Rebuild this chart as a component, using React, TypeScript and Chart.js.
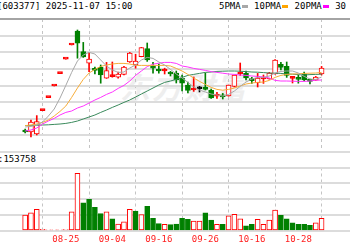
import React, { useEffect, useRef } from "react";
import { Chart, registerables } from "chart.js";

Chart.register(...registerables);

// ---------- data ----------
const dates = [
  "08-14", "08-15", "08-18", "08-19", "08-20", "08-21", "08-22", "08-25", "08-26", "08-27",
  "08-28", "08-29", "09-01", "09-02", "09-03", "09-04", "09-05", "09-08", "09-09", "09-10",
  "09-11", "09-12", "09-15", "09-16", "09-17", "09-18", "09-19", "09-22", "09-23", "09-24",
  "09-25", "09-26", "09-29", "09-30", "10-09", "10-10", "10-13", "10-14", "10-15", "10-16",
  "10-17", "10-20", "10-21", "10-22", "10-23", "10-24", "10-27", "10-28", "10-29", "10-30",
  "10-31", "11-03",
];
const tickLabels = ["08-25", "09-04", "09-16", "09-26", "10-16", "10-28"];

const openP = [
  5.0, 4.9, 4.8, 5.97, 6.62, 7.2, 7.82, 8.54, 9.25, 9.95,
  8.92, 8.34, 8.03, 8.13, 7.59, 7.67, 7.64, 7.78, 8.4, 8.25,
  8.67, 9.07, 8.16, 7.99, 7.95, 7.88, 7.85, 7.6, 7.25, 7.0,
  7.06, 7.15, 6.98, 6.69, 6.7, 6.7, 7.18, 7.8, 7.83, 7.52,
  7.37, 7.55, 7.55, 7.8, 8.28, 8.18, 7.58, 7.57, 7.8, 7.47,
  7.49, 7.8,
];
const highP = [
  5.05, 5.5, 5.72, 5.97, 6.62, 7.2, 7.82, 8.54, 9.25, 10.0,
  9.38, 8.88, 8.15, 8.25, 8.38, 8.4, 7.89, 8.18, 8.88, 8.79,
  9.13, 9.35, 8.38, 8.3, 8.09, 7.93, 7.95, 7.75, 7.4, 7.65,
  7.18, 7.85, 7.05, 6.88, 6.83, 7.25, 7.75, 8.35, 7.95, 7.63,
  7.83, 7.75, 7.88, 8.52, 8.38, 8.4, 7.63, 7.75, 7.9, 7.55,
  7.68, 8.18,
];
const lowP = [
  4.85, 4.65, 4.75, 5.97, 6.62, 7.2, 7.82, 8.54, 9.25, 8.59,
  8.63, 7.92, 7.8, 7.34, 7.58, 7.64, 7.59, 7.75, 8.38, 8.09,
  8.66, 8.43, 7.84, 7.84, 7.8, 7.7, 7.35, 6.95, 6.85, 6.93,
  6.9, 7.0, 6.58, 6.58, 6.55, 6.69, 7.15, 7.73, 7.5, 7.33,
  7.15, 7.33, 7.54, 7.79, 8.0, 7.63, 7.35, 7.34, 7.45, 7.3,
  7.48, 7.75,
];
const closeP = [
  4.9, 5.4, 5.42, 5.97, 6.62, 7.2, 7.82, 8.54, 9.25, 9.34,
  8.65, 8.54, 7.98, 7.75, 7.97, 7.7, 7.79, 8.15, 8.85, 8.45,
  9.12, 8.5, 8.09, 7.95, 7.98, 7.8, 7.5, 7.34, 6.98, 7.03,
  7.06, 7.03, 6.6, 6.72, 6.66, 7.25, 7.75, 7.85, 7.6, 7.47,
  7.59, 7.6, 7.85, 8.5, 8.13, 7.73, 7.61, 7.53, 7.5, 7.43,
  7.65, 8.1,
];
const volume = [
  100000, 115000, 137000, 10000, 8000, 7000, 8000, 9000, 121000, 363000,
  178000, 200000, 149000, 109000, 120000, 76000, 44000, 57000, 137000, 126000,
  103000, 156000, 80000, 46000, 42000, 40000, 44000, 80000, 74000, 63000,
  63000, 115000, 69000, 42000, 42000, 96000, 105000, 76000, 33000, 42000,
  74000, 42000, 69000, 132000, 99000, 76000, 52000, 42000, 42000, 36000,
  52000, 80000,
];
const ma5 = [
  5.15, 5.18, 5.25, 5.4, 5.7, 6.05, 6.6, 7.23, 7.88, 8.45,
  8.75, 8.88, 8.8, 8.5, 8.2, 8.0, 7.88, 7.9, 8.1, 8.25,
  8.5, 8.63, 8.58, 8.4, 8.25, 8.03, 7.8, 7.6, 7.38, 7.15,
  7.0, 6.9, 6.8, 6.75, 6.7, 6.78, 6.95, 7.18, 7.4, 7.55,
  7.63, 7.63, 7.7, 7.85, 7.93, 7.95, 7.95, 7.85, 7.68, 7.55,
  7.53, 7.65,
];
const ma10 = [
  5.22, 5.25, 5.3, 5.38, 5.5, 5.7, 5.93, 6.2, 6.63, 7.1,
  7.53, 7.85, 8.03, 8.18, 8.25, 8.3, 8.33, 8.33, 8.3, 8.23,
  8.23, 8.23, 8.23, 8.23, 8.23, 8.2, 8.08, 7.95, 7.78, 7.6,
  7.43, 7.28, 7.13, 7.03, 6.99, 7.03, 7.1, 7.2, 7.3, 7.35,
  7.38, 7.4, 7.48, 7.63, 7.73, 7.78, 7.8, 7.81, 7.83, 7.84,
  7.85, 7.88,
];
const ma20 = [
  4.95, 5.0, 5.1, 5.3, 5.45, 5.58, 5.75, 5.88, 5.95, 6.1,
  6.2, 6.35, 6.5, 6.63, 6.78, 6.9, 7.08, 7.23, 7.45, 7.73,
  7.95, 8.17, 8.29, 8.34, 8.38, 8.38, 8.33, 8.2, 8.15, 8.08,
  8.03, 7.98, 7.92, 7.88, 7.84, 7.8, 7.78, 7.75, 7.73, 7.7,
  7.68, 7.65, 7.6, 7.48, 7.45, 7.45, 7.44, 7.43, 7.43, 7.45,
  7.49, 7.5,
];
const ma30 = [
  5.22, 5.23, 5.24, 5.25, 5.26, 5.28, 5.3, 5.33, 5.38, 5.45,
  5.55, 5.65, 5.75, 5.88, 6.0, 6.13, 6.25, 6.38, 6.5, 6.65,
  6.8, 6.95, 7.1, 7.25, 7.38, 7.45, 7.53, 7.63, 7.73, 7.78,
  7.83, 7.88, 7.9, 7.93, 7.94, 7.95, 7.95, 7.94, 7.92, 7.9,
  7.89, 7.87, 7.85, 7.84, 7.83, 7.8, 7.79, 7.77, 7.75, 7.77,
  7.78, 7.79,
];

const headerCode = "[603377]";
const headerTime = "2025-11-07 15:00";
const maNames = ["5PMA", "10PMA", "20PMA", "30"];
const volReading = "153758";

// ---------- view / style ----------
const VIEW_MIN = 0.692;
const VIEW_MAX = 50.871;
const PRICE_MIN = 3.9;
const PRICE_MAX = 10.55;
const VOL_MAX = 400000;

const RED = "#ff0000";
const GREEN = "#008000";
const GRID = "#dcdcdc";
const MONO = '"DejaVu Sans Mono", monospace';
const maColors = ["#a8a8a8", "#f7ad3a", "#ff33ff", "#3a8a5c"];

const idx = dates.map((_, i) => i);
const tickIdx = tickLabels.map((l) => dates.indexOf(l));

function candleColor(i: number) {
  const o = openP[i];
  const c = closeP[i];
  if (c > o) return RED;
  if (c < o) return GREEN;
  return highP[i] === lowP[i] ? RED : "#000000";
}
function bodyFill(i: number) {
  const o = openP[i];
  const c = closeP[i];
  if (c > o && c - o >= 0.1) return "#ffffff";
  return candleColor(i);
}
function volColor(i: number) {
  if (i === 0) return RED;
  return closeP[i] >= closeP[i - 1] ? RED : GREEN;
}

function xScale(showLabels: boolean) {
  return {
    type: "linear" as const,
    min: VIEW_MIN,
    max: VIEW_MAX,
    afterBuildTicks: (s: any) => {
      s.ticks = tickIdx.map((v) => ({ value: v }));
    },
    afterFit: (s: any) => {
      s.height = showLabels ? 19 : 0;
    },
    ticks: {
      display: showLabels,
      autoSkip: false,
      maxRotation: 0,
      padding: 3,
      color: "#ff2020",
      font: { family: MONO, size: 9 },
      callback: (v: any) => dates[v as number],
    },
    grid: { drawTicks: false, color: "#c4c4c4", lineWidth: 1 },
    border: { display: false, dash: [3, 3] },
  };
}

export default function App() {
  const priceRef = useRef<HTMLCanvasElement>(null);
  const volRef = useRef<HTMLCanvasElement>(null);

  useEffect(() => {
    const maSets = [ma5, ma10, ma20, ma30].map((arr, k) => ({
      type: "line" as const,
      label: maNames[k],
      data: idx.map((i) => ({ x: i, y: arr[i] })),
      borderColor: maColors[k],
      borderWidth: 1,
      pointRadius: 0,
      tension: 0,
      order: 0,
    }));

    const priceChart = new Chart(priceRef.current as HTMLCanvasElement, {
      type: "bar",
      data: {
        datasets: [
          ...maSets,
          {
            type: "bar",
            label: "body",
            data: idx.map((i) => ({ x: i, y: [openP[i], closeP[i]] })) as any,
            backgroundColor: idx.map(bodyFill),
            borderColor: idx.map(candleColor),
            borderWidth: 1,
            borderSkipped: false,
            barThickness: 5,
            minBarLength: 2,
            grouped: false,
            order: 1,
          },
          {
            type: "bar",
            label: "wick",
            data: idx.map((i) => ({ x: i, y: [lowP[i], highP[i]] })) as any,
            backgroundColor: idx.map(candleColor),
            borderWidth: 0,
            barThickness: 1,
            grouped: false,
            order: 2,
          },
        ] as any,
      },
      options: {
        responsive: false,
        animation: false,
        events: [],
        layout: { padding: { top: 4, bottom: 5, left: 0, right: 0 } },
        plugins: { legend: { display: false }, tooltip: { enabled: false } },
        scales: {
          x: xScale(false) as any,
          y: {
            type: "linear",
            min: PRICE_MIN,
            max: PRICE_MAX,
            afterBuildTicks: (s: any) => {
              s.ticks = Array.from({ length: 9 }, (_, k) => ({
                value: PRICE_MIN + (k * (PRICE_MAX - PRICE_MIN)) / 8,
              }));
            },
            afterFit: (s: any) => {
              s.width = 0;
            },
            ticks: { display: false },
            grid: {
              drawTicks: false,
              lineWidth: 2,
              color: (ctx: any) => (ctx.index === 8 ? "#a4a4a4" : GRID),
            },
            border: { display: false },
          } as any,
        },
      },
    });

    const volChart = new Chart(volRef.current as HTMLCanvasElement, {
      type: "bar",
      data: {
        datasets: [
          {
            label: "volume",
            data: idx.map((i) => ({ x: i, y: volume[i] })) as any,
            backgroundColor: idx.map((i) => (volColor(i) === RED ? "#ffffff" : GREEN)),
            borderColor: idx.map(volColor),
            borderWidth: 1,
            borderSkipped: false,
            barThickness: 5,
          },
        ],
      },
      options: {
        responsive: false,
        animation: false,
        events: [],
        layout: { padding: { top: 4.5, bottom: 0, left: 0, right: 0 } },
        plugins: { legend: { display: false }, tooltip: { enabled: false } },
        scales: {
          x: xScale(true) as any,
          y: {
            type: "linear",
            min: 0,
            max: VOL_MAX,
            ticks: { display: false, stepSize: 100000 },
            afterFit: (s: any) => {
              s.width = 0;
            },
            grid: { drawTicks: false, lineWidth: 2, color: GRID },
            border: { display: false },
          } as any,
        },
      },
    });

    return () => {
      priceChart.destroy();
      volChart.destroy();
    };
  }, []);

  const textBase: React.CSSProperties = {
    position: "absolute",
    fontFamily: MONO,
    fontSize: 9,
    lineHeight: "11px",
    color: "#000",
    whiteSpace: "nowrap",
  };
  const marker = (color: string): React.CSSProperties => ({
    display: "inline-block",
    width: 6,
    height: 3,
    background: color,
    margin: "0 1px 0 1px",
    verticalAlign: "middle",
  });

  return (
    <div
      style={{
        position: "absolute",
        left: 0,
        top: 0,
        width: 350,
        height: 250,
        overflow: "hidden",
        background: "#ffffff",
      }}
    >
      <div
        style={{
          position: "absolute",
          left: 120,
          top: 64,
          fontFamily: '"Noto Sans CJK SC", sans-serif',
          fontSize: 30,
          fontWeight: 700,
          fontStyle: "italic",
          color: "#eeeeee",
          whiteSpace: "nowrap",
          letterSpacing: 2,
        }}
      >
        东方财富
      </div>
      <div style={{ ...textBase, left: -3, top: 1 }}>
        {headerCode} {headerTime}
      </div>
      <div style={{ ...textBase, left: 219, top: 1 }}>
        {maNames[0]}
        <span style={marker(maColors[0])} />
        {" " + maNames[1]}
        <span style={marker("#ffa500")} />
        {" " + maNames[2]}
        <span style={marker("#ff00ff")} />
        {" " + maNames[3]}
      </div>
      <div style={{ ...textBase, left: -2, top: 154 }}>:{volReading}</div>
      <canvas
        ref={priceRef}
        width={350}
        height={142}
        style={{ position: "absolute", left: 0, top: 15, width: 350, height: 142 }}
      />
      <canvas
        ref={volRef}
        width={350}
        height={87}
        style={{ position: "absolute", left: 0, top: 163, width: 350, height: 87 }}
      />
    </div>
  );
}
